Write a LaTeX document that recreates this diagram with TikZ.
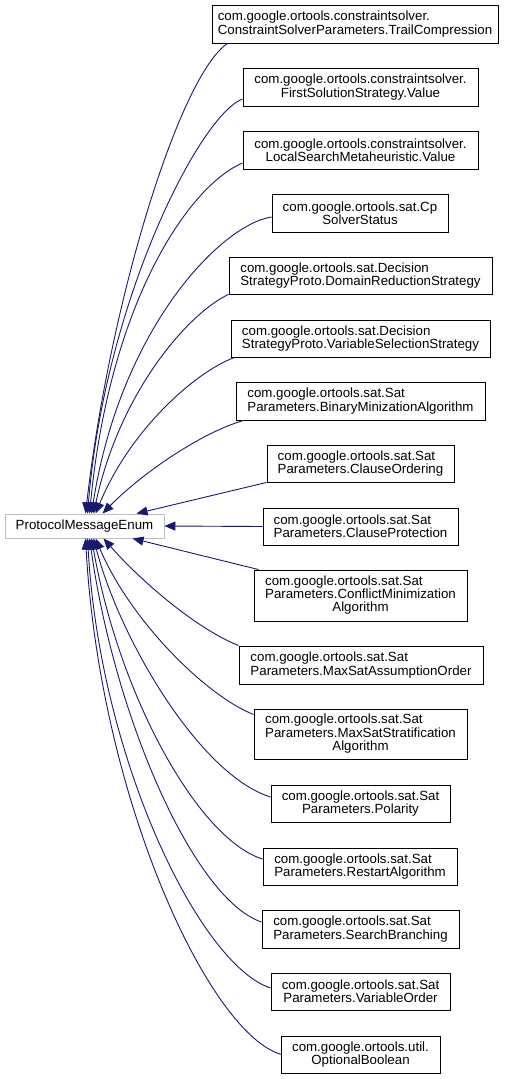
\documentclass[tikz,border=0pt]{standalone}
\usepackage{fontspec}
\setmainfont{Liberation Sans}
\usetikzlibrary{arrows.meta}
\definecolor{edgecol}{HTML}{191970}
\definecolor{pmeborder}{HTML}{BFBFBF}
\begin{document}
\begin{tikzpicture}[x=1pt,y=-1pt,
  cls/.style={draw=black, line width=0.9pt, fill=white, inner sep=0pt,
    font=\fontsize{13.3}{12}\selectfont, text=black, minimum height=38pt},
  lcls/.style={cls, align=left},
  ccls/.style={cls, align=center},
  inh/.style={draw=edgecol, line width=0.9pt, -{Triangle[length=11pt,width=9pt]}}]
\useasboundingbox (0,0) rectangle (514,1079);
\fill[white] (0,0) rectangle (514,1079);

\node[cls, draw=pmeborder, minimum width=159pt, minimum height=24pt] (pme) at (84.5,526) {ProtocolMessageEnum};

\node[lcls, minimum width=286pt] (n1) at (355,24) {com.google.ortools.constraintsolver.\\ConstraintSolverParameters.TrailCompression};
\node[ccls, minimum width=235pt] (n2) at (360.5,87) {com.google.ortools.constraintsolver.\\FirstSolutionStrategy.Value};
\node[ccls, minimum width=235pt] (n3) at (360.5,150) {com.google.ortools.constraintsolver.\\LocalSearchMetaheuristic.Value};
\node[ccls, minimum width=176pt] (n4) at (360,213) {com.google.ortools.sat.Cp\\SolverStatus};
\node[lcls, minimum width=263pt, minimum height=37pt] (n5) at (360.5,275.5) {com.google.ortools.sat.Decision\\StrategyProto.DomainReductionStrategy};
\node[lcls, minimum width=259pt, minimum height=37pt] (n6) at (360.5,338.5) {com.google.ortools.sat.Decision\\StrategyProto.VariableSelectionStrategy};
\node[lcls, minimum width=249pt] (n7) at (360.5,401) {com.google.ortools.sat.Sat\\Parameters.BinaryMinizationAlgorithm};
\node[lcls, minimum width=187pt, minimum height=37pt] (n8) at (360.5,463.5) {com.google.ortools.sat.Sat\\Parameters.ClauseOrdering};
\node[lcls, minimum width=195pt, minimum height=37pt] (n9) at (360.5,526.5) {com.google.ortools.sat.Sat\\Parameters.ClauseProtection};
\node[cls, minimum width=213pt, minimum height=51pt] (n10) at (360.5,595.5) {\begin{tabular}{@{}l@{}}com.google.ortools.sat.Sat\\Parameters.ConflictMinimization\\\multicolumn{1}{@{}c@{}}{Algorithm}\end{tabular}};
\node[lcls, minimum width=244pt] (n11) at (361,665) {com.google.ortools.sat.Sat\\Parameters.MaxSatAssumptionOrder};
\node[cls, minimum width=213pt, minimum height=50pt] (n12) at (360.5,734) {\begin{tabular}{@{}l@{}}com.google.ortools.sat.Sat\\Parameters.MaxSatStratification\\\multicolumn{1}{@{}c@{}}{Algorithm}\end{tabular}};
\node[ccls, minimum width=179pt, minimum height=37pt] (n13) at (360.5,803.5) {com.google.ortools.sat.Sat\\Parameters.Polarity};
\node[lcls, minimum width=194pt, minimum height=37pt] (n14) at (360,866.5) {com.google.ortools.sat.Sat\\Parameters.RestartAlgorithm};
\node[lcls, minimum width=197pt] (n15) at (360.5,929) {com.google.ortools.sat.Sat\\Parameters.SearchBranching};
\node[ccls, minimum width=179pt, minimum height=37pt] (n16) at (360.5,991.5) {com.google.ortools.sat.Sat\\Parameters.VariableOrder};
\node[ccls, minimum width=159pt, minimum height=37pt] (n17) at (360.5,1054.5) {com.google.ortools.util.\\OptionalBoolean};

\draw[inh] ([xshift=16pt]n1.south west) .. controls (180,75) and (110,300) .. ([xshift=81pt]pme.north west);
\draw[inh] ([yshift=-12pt]n2.west) .. controls (200,115) and (105,300) .. ([xshift=83pt]pme.north west);
\draw[inh] ([yshift=-13pt]n3.west) .. controls (190,185) and (110,300) .. ([xshift=85pt]pme.north west);
\draw[inh] ([yshift=-4pt]n4.west) .. controls (220,225) and (120,330) .. ([xshift=87pt]pme.north west);
\draw[inh] (n5.south west) .. controls (190,312) and (120,390) .. ([xshift=89pt]pme.north west);
\draw[inh] ([xshift=4pt]n6.south west) .. controls (195,372) and (130,430) .. ([xshift=91pt]pme.north west);
\draw[inh] ([xshift=8pt]n7.south west) .. controls (200,433) and (140,475) .. ([xshift=98pt]pme.north west);
\draw[inh] (n8.south west) -- ([xshift=132pt]pme.north west);
\draw[inh] (n9.west) -- (pme.east);
\draw[inh] ([xshift=5pt]n10.north west) -- ([xshift=128pt]pme.south west);
\draw[inh] (n11.north west) .. controls (195,628) and (140,580) .. ([xshift=99pt]pme.south west);
\draw[inh] ([yshift=-6pt]n12.north west) .. controls (205,695) and (130,620) .. ([xshift=91pt]pme.south west);
\draw[inh] ([yshift=6.5pt]n13.west) .. controls (200,775) and (120,640) .. ([xshift=89pt]pme.south west);
\draw[inh] ([yshift=7.5pt]n14.west) .. controls (200,840) and (120,700) .. ([xshift=87pt]pme.south west);
\draw[inh] ([yshift=7pt]n15.west) .. controls (195,900) and (115,720) .. ([xshift=85pt]pme.south west);
\draw[inh] ([yshift=3.5pt]n16.west) .. controls (200,965) and (100,760) .. ([xshift=83pt]pme.south west);
\draw[inh] ([xshift=1pt]n17.west) .. controls (210,1035) and (100,800) .. ([xshift=81pt]pme.south west);
\end{tikzpicture}
\end{document}
